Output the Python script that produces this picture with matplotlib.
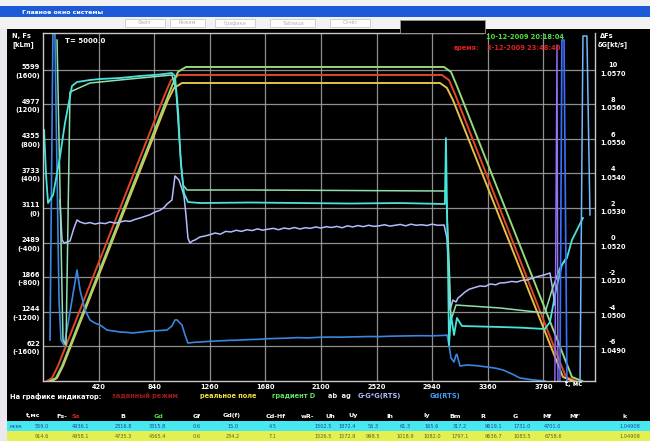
import matplotlib
matplotlib.use('Agg')
import matplotlib.pyplot as plt
from matplotlib.patches import Rectangle

W, H = 650, 441

# axis ticks
t_ticks = [420, 840, 1260, 1680, 2100, 2520, 2940, 3360, 3780]
n_ticks = [622, 1244, 1866, 2489, 3111, 3733, 4355, 4977, 5599]
n2_labels = ['-1600', '-1200', '-800', '-400', '0', '400', '800', '1200', '1600']
dfs_labels = ['-6', '-4', '-2', '0', '2', '4', '6', '8', '10']
k_labels = ['1.0490', '1.0500', '1.0510', '1.0520', '1.0530', '1.0540', '1.0550', '1.0560', '1.0570']

# ramps (задание / реальное / градиент)
t_green = [53, 98, 144, 974, 1020, 1080, 3029, 3082, 3127, 3951, 3996, 4072]
v_green = [0, 54, 270, 5304, 5558, 5646, 5646, 5558, 5304, 342, 72, 0]
t_red = [30, 68, 113, 922, 967, 1027, 3014, 3067, 3112, 3905, 3951, 4026]
v_red = [0, 54, 270, 5160, 5410, 5502, 5502, 5410, 5160, 342, 72, 0]
t_yel = [68, 106, 151, 944, 990, 1050, 2999, 3052, 3097, 3883, 3928, 4004]
v_yel = [0, 54, 270, 5052, 5268, 5358, 5358, 5268, 5052, 342, 72, 0]

# cyan Fs
t_cyan = [8, 23, 38, 76, 128, 166, 219, 257, 355, 431, 582, 733, 884, 974, 997, 1020, 1042,
          1065, 1095, 1186, 1564, 1941, 2319, 2697, 3036, 3044, 3052, 3059, 3067, 3082, 3105,
          3127, 3165, 3300, 3452, 3600, 3792, 3830, 3875, 3920, 3958, 3996, 4041, 4079]
v_cyan = [4513, 3704, 3200, 3344, 4028, 4639, 5304, 5376, 5412, 5430, 5448, 5484, 5511, 5538,
          5484, 4873, 3884, 3380, 3218, 3200, 3209, 3200, 3191, 3200, 3182, 4369, 3100, 2176,
          647, 1187, 827, 1133, 989, 980, 971, 960, 935, 1061, 1636, 2086, 2212, 2535, 2751, 2931]

# green-cyan G
t_gc = [106, 151, 174, 204, 355, 657, 974, 1005, 1035, 1058, 1088, 1564, 2319, 3044, 3067,
        3082, 3120, 3452, 3792, 3845, 3905, 3951]
v_gc = [6131, 737, 647, 5196, 5358, 5430, 5502, 5232, 4153, 3524, 3434, 3434, 3425, 3416,
        2176, 1097, 1366, 1313, 1223, 1636, 2032, 2212]

# lavender G-G*G(RTS)
t_lav = [128, 144, 159, 204, 234, 257, 280, 318, 355, 393, 431, 470, 506, 545, 582, 620, 657,
         695, 733, 770, 808, 846, 884, 915, 937, 974, 997, 1012, 1027, 1050, 1065, 1080, 1095,
         1110, 1130, 1148, 1186, 1224, 1260, 1300, 1340, 1380, 1420, 1460, 1500, 1540, 1580,
         1620, 1660, 1700, 1740, 1780, 1820, 1860, 1900, 1941, 1980, 2020, 2060, 2100, 2140,
         2180, 2220, 2260, 2300, 2340, 2380, 2420, 2460, 2500, 2540, 2580, 2620, 2660, 2700,
         2740, 2780, 2820, 2860, 2900, 2940, 2980, 3030, 3052, 3067, 3074, 3097, 3120, 3135,
         3160, 3188, 3220, 3260, 3301, 3340, 3380, 3420, 3452, 3500, 3540, 3580, 3620, 3656,
         3700, 3740, 3790, 3830, 3845, 3867]
v_lav = [3254, 2535, 2481, 2517, 2751, 2895, 2859, 2830, 2848, 2822, 2841, 2830, 2860, 2838,
         2859, 2880, 2870, 2905, 2931, 2960, 2990, 3039, 3070, 3120, 3182, 3254, 3686, 3650,
         3614, 3450, 3326, 2985, 2571, 2481, 2520, 2535, 2590, 2607, 2630, 2661, 2640, 2690,
         2680, 2710, 2690, 2720, 2705, 2735, 2712, 2730, 2745, 2720, 2750, 2735, 2760, 2733,
         2755, 2745, 2770, 2750, 2775, 2760, 2780, 2755, 2790, 2770, 2795, 2775, 2800, 2780,
         2790, 2810, 2785, 2800, 2815, 2790, 2820, 2800, 2810, 2795, 2820, 2800, 2805, 2560,
         1900, 1277, 1456, 1420, 1492, 1540, 1600, 1650, 1680, 1708, 1700, 1745, 1730, 1762,
         1770, 1790, 1780, 1810, 1816, 1850, 1880, 1910, 1942, 1726, 1367]

# blue Gd(RTS)
t_blue = [53, 75, 90, 121, 136, 159, 181, 219, 257, 280, 317, 355, 393, 431, 483, 530, 582,
          630, 680, 740, 808, 870, 937, 974, 997, 1012, 1027, 1050, 1073, 1095, 1140, 1186,
          1250, 1320, 1400, 1480, 1560, 1640, 1692, 1760, 1840, 1920, 2000, 2080, 2160, 2240,
          2296, 2380, 2460, 2540, 2620, 2697, 2780, 2860, 2940, 3030, 3052, 3067, 3082, 3105,
          3120, 3127, 3150, 3203, 3280, 3354, 3420, 3475, 3540, 3603, 3700, 3792]
v_blue = [737, 6250, 6250, 1456, 737, 647, 917, 1456, 1996, 1636, 1277, 1097, 1040, 1007, 917,
          900, 881, 875, 863, 880, 899, 905, 917, 989, 1097, 1100, 1061, 1007, 827, 683, 695,
          701, 712, 720, 730, 735, 745, 750, 760, 765, 770, 780, 775, 785, 790, 788, 791, 795,
          800, 798, 805, 809, 812, 815, 812, 820, 827, 647, 414, 342, 467, 480, 270, 288, 275,
          252, 230, 198, 130, 54, 20, 0]

# vertical spikes on the right
t_blue_r = [3905, 3920, 3936, 3958]
v_blue_r = [0, 6131, 6131, 0]
t_cyan_r = [4057, 4079, 4109, 4132]
v_cyan_r = [0, 6203, 6203, 2985]
t_pur_r = [3867, 3883, 3890]
v_pur_r = [0, 6041, 0]

# table
hdr = ['t,мс', 'Fs-', 'Ss', 'B', 'Gd', 'Gf', 'Gd(f)', 'Cd-Hf', 'wR-', 'Uh', 'Uy', 'Ih', 'Iy',
       'Bm', 'R', 'G', 'Mf', "Mf'", 'k']
hdr_x = [33, 62, 76, 123, 158, 197, 232, 276, 308, 330, 353, 390, 427, 455, 483, 515, 547, 575, 625]
hdr_c = ['w', 'w', '#e02020', 'w', '#40e040'] + ['w'] * 14
row1 = ['559.0', '4936.1', '2316.8', '3315.8', '0.6', '15.0', '4.5', '1502.5', '1872.4', '56.3',
        '61.3', '165.6', '317.2', '9619.1', '1731.0', '4701.0', '1.04908']
row2 = ['914.6', '4958.1', '4735.3', '4565.4', '0.6', '234.2', '7.1', '1526.5', '1572.9',
        '998.5', '1018.9', '1082.0', '1797.1', '9636.7', '1083.5', '6758.6', '1.04908']
row_x = [42, 80, 123, 157, 197, 233, 273, 323, 347, 373, 405, 432, 460, 493, 522, 553, 630]

fig = plt.figure(figsize=(6.5, 4.41), dpi=100, facecolor='black')


def fx(px):
    return px / W


def fy(py):
    return 1 - py / H


# window chrome
fig.add_artist(Rectangle((0, fy(29)), 1, 1 - fy(29), transform=fig.transFigure,
                         facecolor='#f2f2f2', edgecolor='none'))
fig.add_artist(Rectangle((0, fy(17)), 1, fy(6) - fy(17), transform=fig.transFigure,
                         facecolor='#1c5ad8', edgecolor='none'))
fig.text(fx(22), fy(12), 'Главное окно системы', color='white', fontsize=4.5,
         fontweight='bold', va='center')
for bx, bw, lab in [(125, 40, 'Файл'), (170, 35, 'Режим'), (215, 40, 'Графики'),
                    (270, 45, 'Таблица'), (330, 40, 'Отчёт')]:
    fig.add_artist(Rectangle((fx(bx), fy(27)), fx(bw), fy(19) - fy(27),
                             transform=fig.transFigure, facecolor='#ffffff',
                             edgecolor='#c8c8c8', lw=0.6))
    fig.text(fx(bx + bw / 2), fy(23), lab, color='#b0b0b0', fontsize=3.5, ha='center',
             va='center')
fig.add_artist(Rectangle((fx(400), fy(33)), fx(85), fy(20) - fy(33),
                         transform=fig.transFigure, facecolor='black',
                         edgecolor='#999999', lw=0.6))
fig.add_artist(Rectangle((0, 0), fx(7), fy(29), transform=fig.transFigure,
                         facecolor='#e8e8ee', edgecolor='none'))

ax = fig.add_axes([fx(43), fy(381), fx(552), fy(33) - fy(381)])
ax.set_facecolor('black')
ax.set_xlim(0, 4170)
ax.set_ylim(0, 6257)

ax.plot(t_red, v_red, color='#e04828', lw=1.4)
ax.plot(t_yel, v_yel, color='#e8c048', lw=1.4)
ax.plot(t_green, v_green, color='#98d878', lw=1.4)
ax.plot(t_blue, v_blue, color='#3a86e0', lw=1.2)
ax.plot(t_lav, v_lav, color='#b4bcff', lw=1.1)
ax.plot(t_gc, v_gc, color='#8ee0b0', lw=1.1)
ax.plot(t_cyan, v_cyan, color='#48e4dc', lw=1.3)
ax.plot(t_blue_r, v_blue_r, color='#3a70ff', lw=1.2)
ax.plot(t_pur_r, v_pur_r, color='#9a70ff', lw=1.0)
ax.plot(t_cyan_r, v_cyan_r, color='#70b8ff', lw=1.1)

ax.set_xticks(t_ticks)
ax.set_xticklabels([str(t) for t in t_ticks])
ax.set_yticks(n_ticks)
ax.set_yticklabels([f'{a}\n({b})' for a, b in zip(n_ticks, n2_labels)])
ax.tick_params(length=0, colors='white', labelsize=4.8, pad=2)
for lab in ax.get_xticklabels() + ax.get_yticklabels():
    lab.set_fontweight('bold')
    lab.set_linespacing(1.5)
ax.grid(True, color='#a0a0a0', lw=0.9, alpha=0.9)
ax.set_axisbelow(True)
for s in ax.spines.values():
    s.set_color('#c8c8c8')
    s.set_linewidth(1.0)
ax.spines['top'].set_bounds(0, 3324)

for v, a, b in zip(n_ticks, dfs_labels, k_labels):
    ax.text(1.032, v, f'{a}\n{b}', transform=ax.get_yaxis_transform(), color='white',
            fontsize=4.8, fontweight='bold', ha='center', va='center', linespacing=1.5)

ax.text(0.04, 0.985, 'T= 5000.0', transform=ax.transAxes, color='white', fontsize=5,
        fontweight='bold', va='top')
fig.text(fx(565), fy(384), 't, мс', color='white', fontsize=4.8, fontweight='bold', va='center')
fig.text(fx(12), fy(36), 'N, Fs', color='white', fontsize=4.8, fontweight='bold', va='center')
fig.text(fx(12), fy(45), '[kLm]', color='white', fontsize=4.8, fontweight='bold', va='center')
fig.text(fx(600), fy(36), 'ΔFs', color='white', fontsize=4.8, fontweight='bold', va='center')
fig.text(fx(598), fy(45), 'δG[kt/s]', color='white', fontsize=4.8, fontweight='bold',
         va='center')
fig.text(fx(486), fy(37), '10-12-2009 20:18:04', color='#50e040', fontsize=4.8,
         fontweight='bold', va='center')
fig.text(fx(454), fy(48), 'время:', color='#e02020', fontsize=4.8, fontweight='bold',
         va='center')
fig.text(fx(487), fy(48), '3-12-2009 23:48:40', color='#e02020', fontsize=4.8,
         fontweight='bold', va='center')

# legend line
legend = [(10, 'На графике индикатор:', 'white'), (112, 'заданный режим', '#a01818'),
          (200, 'реальное поле', '#f0e040'), (272, 'градиент D', '#60e060'),
          (328, 'ab  ag', '#f0f0f0'), (358, 'G-G*G(RTS)', '#b0c0ff'),
          (430, 'Gd(RTS)', '#40a0ff')]
for px, txt, c in legend:
    fig.text(fx(px), fy(396), txt, color=c, fontsize=4.8, fontweight='bold', va='center')

for px, txt, c in zip(hdr_x, hdr, hdr_c):
    fig.text(fx(px), fy(416), txt, color=c, fontsize=4.6, fontweight='bold', va='center',
             ha='center')

fig.add_artist(Rectangle((fx(7), fy(431)), fx(643), fy(421) - fy(431),
                         transform=fig.transFigure, facecolor='#48e8f0', edgecolor='none'))
fig.add_artist(Rectangle((fx(7), fy(441)), fx(643), fy(431) - fy(441),
                         transform=fig.transFigure, facecolor='#e4f050', edgecolor='none'))
fig.text(fx(9), fy(426), 'мсек', color='#2040a0', fontsize=3.6, va='center')
for px, a, b in zip(row_x, row1, row2):
    fig.text(fx(px), fy(426), a, color='#2040a0', fontsize=3.6, va='center', ha='center')
    fig.text(fx(px), fy(436), b, color='#606020', fontsize=3.6, va='center', ha='center')

fig.savefig('out.png', dpi=100, facecolor=fig.get_facecolor())
